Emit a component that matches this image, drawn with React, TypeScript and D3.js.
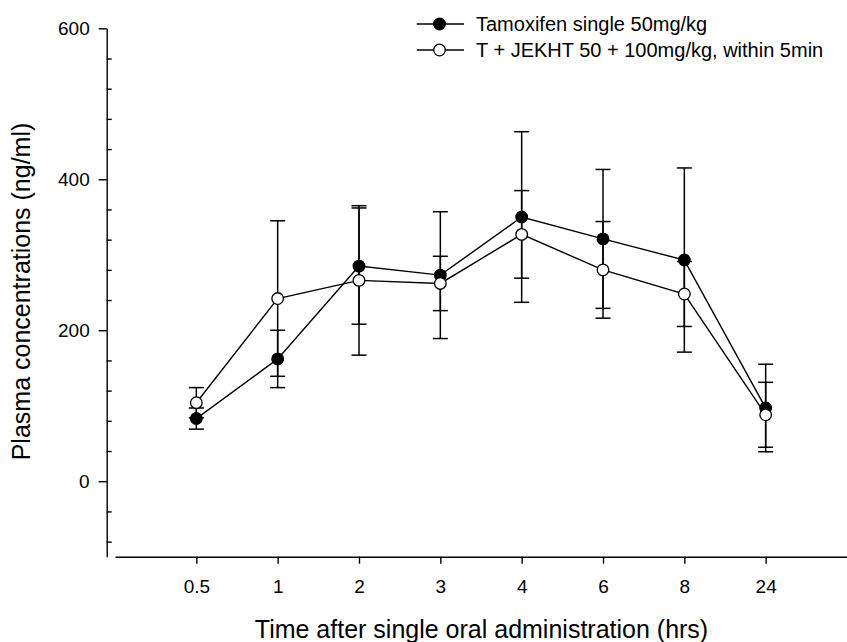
import React, { useEffect, useRef } from "react";
import * as d3 from "d3";

// time points (categorical x axis)
const timeLabels = ["0.5", "1", "2", "3", "4", "6", "8", "24"];

// Tamoxifen single 50mg/kg
const tamoxMean = [83, 162, 285, 273, 350, 321, 293, 97];
const tamoxSd = [14, 38, 77, 84, 113, 92, 122, 58];

// T + JEKHT 50 + 100mg/kg, within 5min
const comboMean = [104, 242, 266, 262, 327, 280, 248, 88];
const comboSd = [20, 103, 99, 36, 58, 64, 43, 43];

const seriesNames = ["Tamoxifen single 50mg/kg", "T + JEKHT 50 + 100mg/kg, within 5min"];

const yMajor = [0, 200, 400, 600];
const yMinor = [-80, -40, 40, 80, 120, 160, 240, 280, 320, 360, 440, 480, 520, 560];

const W = 847;
const H = 642;
const FONT = "Arial, 'Liberation Sans', sans-serif";

export default function App() {
  const svgRef = useRef<SVGSVGElement>(null);

  useEffect(() => {
    const svg = d3.select(svgRef.current);
    svg.selectAll("*").remove();

    const x = d3.scaleLinear().domain([-1, 8]).range([115, 847]);
    const y = d3.scaleLinear().domain([-100, 600]).range([556.7, 28.3]);
    const axisX = 106.7;

    // y axis major ticks (outward)
    const gy = svg.append("g").attr("transform", `translate(${axisX},0)`);
    gy.call(
      d3.axisLeft(y).tickValues(yMajor).tickSize(8).tickSizeOuter(0).tickPadding(9)
        .tickFormat(d => `${d}`)
    );
    gy.select(".domain").attr("stroke-width", 1.4);
    gy.selectAll(".tick line").attr("stroke-width", 1.4);
    gy.selectAll(".tick text")
      .attr("font-family", FONT)
      .attr("font-size", 19)
      .attr("fill", "black");

    // minor ticks (inward)
    const gm = svg.append("g").attr("transform", `translate(${axisX},0)`);
    gm.call(d3.axisRight(y).tickValues(yMinor).tickSize(5).tickFormat(() => ""));
    gm.select(".domain").remove();
    gm.selectAll(".tick line").attr("stroke-width", 1.4);

    // x axis
    const gx = svg.append("g").attr("transform", `translate(0,556.7)`);
    gx.call(
      d3.axisBottom(x).tickValues(d3.range(timeLabels.length)).tickSize(7).tickSizeOuter(0)
        .tickFormat((i: any) => timeLabels[i])
    );
    gx.select(".domain").attr("stroke-width", 1.4);
    gx.selectAll(".tick line").attr("stroke-width", 1.4);
    gx.selectAll(".tick text")
      .attr("font-family", FONT)
      .attr("font-size", 19)
      .attr("fill", "black")
      .attr("y", 36)
      .attr("dy", 0);

    // axis titles
    svg.append("text")
      .attr("x", 481.5)
      .attr("y", 638)
      .attr("text-anchor", "middle")
      .attr("font-family", FONT)
      .attr("font-size", 25)
      .text("Time after single oral administration (hrs)");

    svg.append("text")
      .attr("transform", `translate(30,291.5) rotate(-90)`)
      .attr("text-anchor", "middle")
      .attr("font-family", FONT)
      .attr("font-size", 25)
      .text("Plasma concentrations (ng/ml)");

    const line = d3.line<number>().x((_, i) => x(i)).y(d => y(d));

    const drawSeries = (mean: number[], sd: number[], filled: boolean) => {
      const g = svg.append("g");
      // error bars
      mean.forEach((m, i) => {
        const cx = x(i);
        const top = y(m + sd[i]);
        const bot = y(m - sd[i]);
        g.append("line").attr("x1", cx).attr("x2", cx).attr("y1", top).attr("y2", bot)
          .attr("stroke", "black").attr("stroke-width", 1.5);
        [top, bot].forEach(yy => {
          g.append("line").attr("x1", cx - 7.5).attr("x2", cx + 7.5).attr("y1", yy).attr("y2", yy)
            .attr("stroke", "black").attr("stroke-width", 1.5);
        });
      });
      // connecting line
      g.append("path").datum(mean).attr("d", line).attr("fill", "none")
        .attr("stroke", "black").attr("stroke-width", 1.4);
      // markers
      g.selectAll("circle").data(mean).enter().append("circle")
        .attr("cx", (_, i) => x(i)).attr("cy", d => y(d)).attr("r", 5.8)
        .attr("fill", filled ? "black" : "white")
        .attr("stroke", "black").attr("stroke-width", 1.3);
    };

    drawSeries(tamoxMean, tamoxSd, true);
    drawSeries(comboMean, comboSd, false);

    // legend
    const lg = svg.append("g");
    seriesNames.forEach((name, i) => {
      const cy = 24 + i * 26;
      lg.append("line").attr("x1", 416.7).attr("x2", 464).attr("y1", cy).attr("y2", cy)
        .attr("stroke", "black").attr("stroke-width", 1.4);
      lg.append("circle").attr("cx", 439.5).attr("cy", cy).attr("r", 5.8)
        .attr("fill", i === 0 ? "black" : "white").attr("stroke", "black").attr("stroke-width", 1.3);
      lg.append("text").attr("x", 476).attr("y", cy + 7)
        .attr("font-family", FONT).attr("font-size", 20).text(name);
    });
  }, []);

  return (
    <svg
      ref={svgRef}
      width={W}
      height={H}
      style={{ position: "absolute", left: 0, top: 0, background: "white" }}
    />
  );
}
